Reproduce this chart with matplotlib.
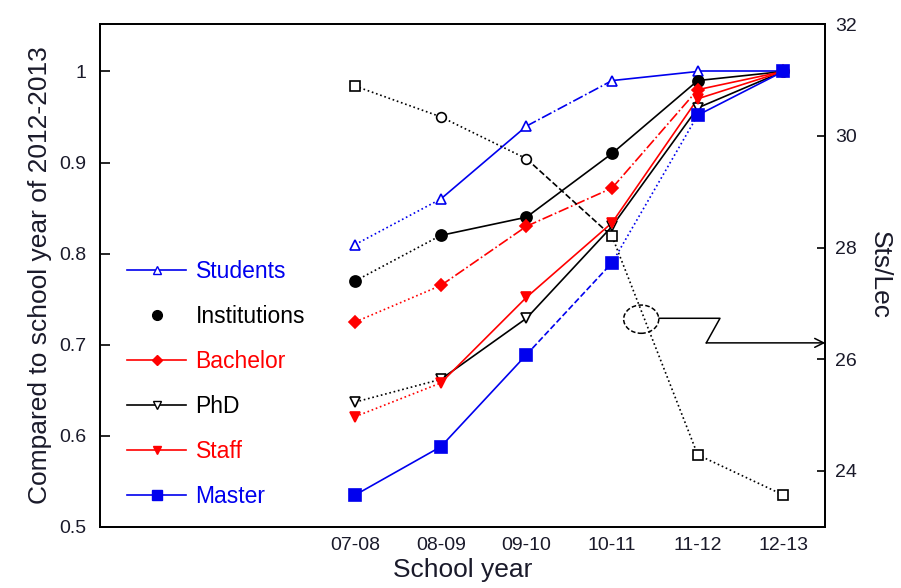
# =========================
# IMPORTS
# =========================
import matplotlib
matplotlib.use("Agg")

import matplotlib.pyplot as plt
from matplotlib.lines import Line2D
from matplotlib.patches import Ellipse

plt.rcParams["font.family"] = ["Liberation Sans", "DejaVu Sans"]

# =========================
# DATA
# =========================
years = ["07-08", "08-09", "09-10", "10-11", "11-12", "12-13"]

students = [0.81, 0.86, 0.94, 0.99, 1.00, 1.00]
institutions = [0.77, 0.82, 0.84, 0.91, 0.99, 1.00]
bachelor = [0.725, 0.765, 0.83, 0.872, 0.98, 1.00]
phd = [0.637, 0.662, 0.729, 0.83, 0.96, 1.00]
staff = [0.621, 0.658, 0.752, 0.834, 0.97, 1.00]
master = [0.535, 0.588, 0.689, 0.79, 0.952, 1.00]

sts_lec = [30.89, 30.34, 29.59, 28.20, 24.29, 23.57]

BLUE = "#0000ee"
RED = "#ff0000"
BLACK = "#000000"
TXT = "#1a1a2a"

# styles: colour, marker, filled, size, segment styles
SERIES = [
    ("Students", students, BLUE, "^", False, 7, [":", "-", "-.", "-", "-"]),
    ("Institutions", institutions, BLACK, "o", True, 8, [":", "-", "-", "-", "-"]),
    ("Bachelor", bachelor, RED, "D", True, 6, [":", "-.", "-.", "-.", "-"]),
    ("PhD", phd, BLACK, "v", False, 7, [":", "-", "-", "-", "-"]),
    ("Staff", staff, RED, "v", True, 7, [":", "-", "-", "-", "-"]),
    ("Master", master, BLUE, "s", True, 8, ["-", "-", "--", ":", "-"]),
]
LEGEND_LINE = {"Institutions": False}

# =========================
# FIGURE
# =========================
fig = plt.figure(figsize=(9.01, 5.88), dpi=100)
ax = fig.add_axes([0.111, 0.104, 0.805, 0.855])
ax2 = ax.twinx()

x = list(range(len(years)))

for name, vals, col, mk, filled, ms, segs in SERIES:
    for i, ls in enumerate(segs):
        ax.plot(x[i:i + 2], vals[i:i + 2], color=col, linestyle=ls, linewidth=1.2)
    ax.plot(x, vals, linestyle="none", marker=mk, markersize=ms, color=col,
            markerfacecolor=col if filled else "white", markeredgecolor=col,
            markeredgewidth=1.2, zorder=4)

# Sts/Lec on right axis
sts_segs = [":", ":", "--", ":", ":"]
sts_marks = ["s", "o", "o", "s", "s", "s"]
for i, ls in enumerate(sts_segs):
    ax2.plot(x[i:i + 2], sts_lec[i:i + 2], color=BLACK, linestyle=ls, linewidth=1.2)
for xi, yi, mk in zip(x, sts_lec, sts_marks):
    ax2.plot(xi, yi, marker=mk, markersize=7, markerfacecolor="white",
             markeredgecolor=BLACK, markeredgewidth=1.2, linestyle="none", zorder=4)

# =========================
# AXES
# =========================
ax.set_xlim(-2.98, 5.49)
ax.set_ylim(0.5, 1.052)
ax2.set_ylim(23, 32)

ax.set_xticks(x)
ax.set_xticklabels(years)
ax.set_yticks([0.5, 0.6, 0.7, 0.8, 0.9, 1.0])
ax.set_yticklabels(["0.5", "0.6", "0.7", "0.8", "0.9", "1"])
ax2.set_yticks([24, 26, 28, 30, 32])

ax.tick_params(axis="x", length=0, pad=7, labelsize=14, labelcolor=TXT)
ax.tick_params(axis="y", direction="in", length=7, width=1.2, pad=10,
               labelsize=14, labelcolor=TXT)
ax2.tick_params(axis="y", direction="in", length=6, width=1.2, pad=7,
                labelsize=14, labelcolor=TXT)

for sp in list(ax.spines.values()) + list(ax2.spines.values()):
    sp.set_linewidth(1.3)

ax.set_xlabel("School year", fontsize=19, color=TXT, labelpad=3)
ax.set_ylabel("Compared to school year of 2012-2013", fontsize=19, color=TXT, labelpad=5)
ax2.set_ylabel("Sts/Lec", fontsize=19, color=TXT, rotation=270, va="bottom", labelpad=8)

# =========================
# ANNOTATION (ellipse + arrow to right axis)
# =========================
ax.add_patch(Ellipse((3.34, 0.728), 0.41, 0.031, fill=False, edgecolor=BLACK,
                     linestyle=(0, (3, 1.5)), linewidth=1.1, zorder=5))
ax.plot([3.55, 4.26, 4.10], [0.729, 0.729, 0.702], color=BLACK, linewidth=1.1)
ax.annotate("", xy=(5.49, 0.702), xytext=(4.10, 0.702),
            arrowprops=dict(arrowstyle="->", color=BLACK, lw=1.1,
                            shrinkA=0, shrinkB=0, mutation_scale=16))

# =========================
# LEGEND
# =========================
handles = []
for name, vals, col, mk, filled, ms, segs in SERIES:
    handles.append(Line2D([], [], color=col,
                          linestyle="-" if LEGEND_LINE.get(name, True) else "none",
                          linewidth=1.2, marker=mk, markersize=ms - 1,
                          markerfacecolor=col if filled else "white",
                          markeredgecolor=col))
labels = [s[0] for s in SERIES]
leg = ax.legend(handles, labels, loc="upper left", bbox_to_anchor=(0.037, 0.531),
                frameon=False, fontsize=16.5, handlelength=2.6, handletextpad=0.4,
                labelspacing=0.96, borderpad=0, borderaxespad=0)
for t, s in zip(leg.get_texts(), SERIES):
    t.set_color(s[2])

fig.savefig("out.png", dpi=100)
